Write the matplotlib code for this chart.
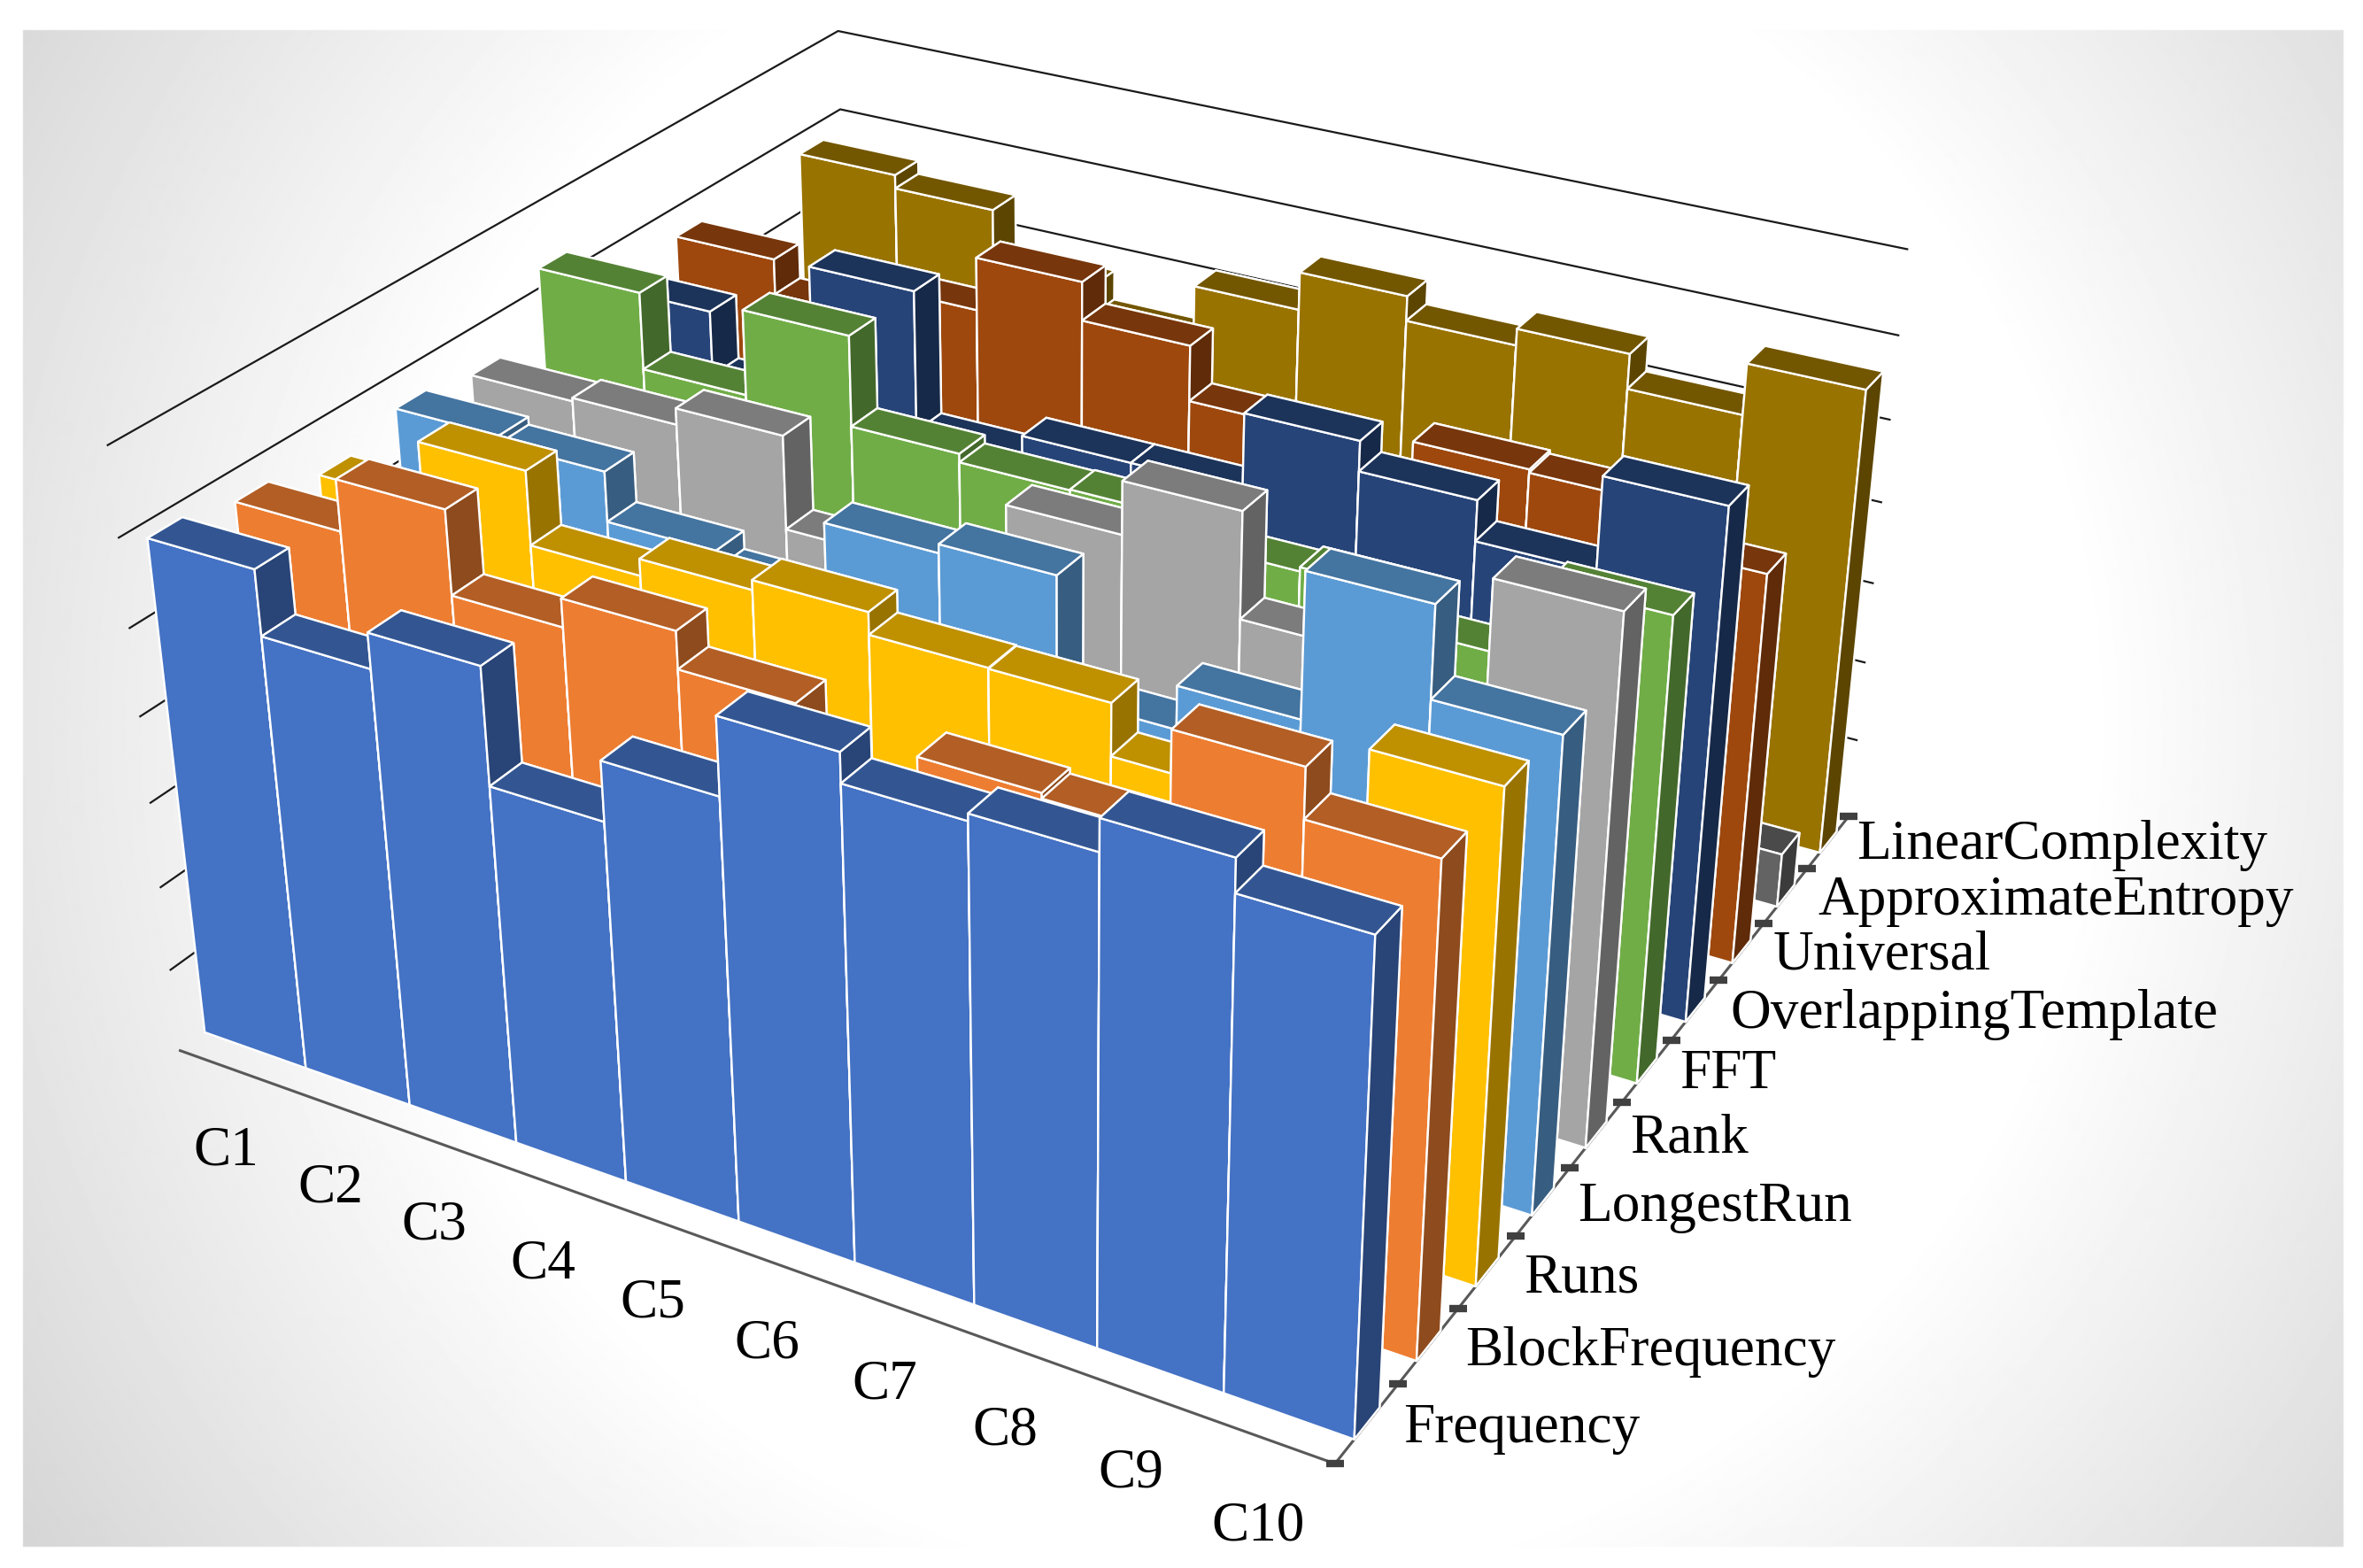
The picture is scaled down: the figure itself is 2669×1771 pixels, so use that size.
"""3D column chart of randomness test scores per cipher configuration."""

import numpy as np
import matplotlib

matplotlib.use("Agg")
import matplotlib.pyplot as plt
from matplotlib.colors import to_rgb

categories = ["C1", "C2", "C3", "C4", "C5", "C6", "C7", "C8", "C9", "C10"]
tests = [
    "Frequency", "BlockFrequency", "Runs", "LongestRun", "Rank", "FFT",
    "OverlappingTemplate", "Universal", "ApproximateEntropy", "LinearComplexity",
]

frequency = [5.82, 5.08, 5.48, 4.16, 4.83, 5.69, 5.36, 5.44, 5.79, 5.43]
block_frequency = [5.65, 6.23, 5.28, 5.6, 5.18, 4.3, 4.98, 4.92, 6.03, 5.49]
runs = [5.39, 6.09, 5.25, 5.44, 5.55, 5.3, 5.29, 4.71, 4.14, 5.55]
longest_run = [5.61, 5.52, 4.94, 4.73, 5.6, 5.7, 4.35, 4.84, 6.44, 5.43]
rank = [5.47, 5.51, 5.7, 4.61, 4.18, 5.56, 6.16, 4.96, 4.41, 6.11]
fft = [6.23, 5.32, 6.32, 5.26, 5.16, 5.17, 4.9, 4.95, 4.55, 5.46]
overlapping = [5.5, 4.72, 6.33, 4.66, 4.92, 4.92, 5.82, 5.47, 5.0, 6.07]
universal = [5.64, 5.21, 5.6, 6.23, 5.77, 5.11, 4.6, 5.26, 5.22, 4.72]
approx_entropy = [0.5, 0.6, 0.45, 0.7, 0.55, 0.6, 0.5, 0.65, 0.55, 0.67]
linear_complexity = [5.74, 5.57, 4.89, 4.52, 5.18, 5.64, 5.34, 5.54, 5.12, 5.73]

series = [
    frequency, block_frequency, runs, longest_run, rank,
    fft, overlapping, universal, approx_entropy, linear_complexity,
]
colors = [
    "#4472C4", "#ED7D31", "#FFC000", "#5B9BD5", "#A5A5A5",
    "#70AD47", "#264478", "#9E480E", "#636363", "#997300",
]

# label centres in picture pixels, the labels do not follow the 3D axes exactly
CAT_LABEL_XY = [(255, 1301), (373, 1342), (490, 1384), (613, 1429), (737, 1473),
                (866, 1519), (999, 1565), (1135, 1616), (1277, 1665), (1421, 1725)]
TEST_LABEL_XY = [(1719, 1614), (1864, 1527), (1786, 1444), (1937, 1364), (1908, 1287),
                 (1952, 1214), (2230, 1146), (2126, 1080), (2322, 1018), (2329, 955)]

W, H = 2669, 1771
FONT = "Liberation Serif"


def add_background(fig):
    """Grey radial wash behind the whole chart."""
    bg = fig.add_axes([0, 0, 1, 1], zorder=0)
    yy, xx = np.mgrid[0:H:2, 0:W:2]
    r = np.hypot(xx - 1400, yy - 820)
    shade = np.clip(255 - 0.06 * np.clip(r - 960, 0, None), 0, 255)
    shade[(xx < 25) | (xx > 2646) | (yy < 33) | (yy > 1746)] = 255
    bg.imshow(shade, cmap="gray", vmin=0, vmax=255, extent=(0, W, H, 0), aspect="auto")
    bg.set_axis_off()


def add_chart(fig):
    # camera fitted to the wall corners of the original
    scale = 9477.5 * W / 1568
    left = (697.73 * W / 1568) - 0.095 * scale
    top = (428.85 * W / 1568) - 0.09 * scale
    side = 0.185 * scale
    ax = fig.add_axes([left / W, (H - top - side) / H, side / W, side / H],
                      projection="3d", zorder=1)
    ax.patch.set_alpha(0)
    ax.computed_zorder = False
    ax.view_init(elev=28.505, azim=-60.142, roll=0.09)
    ax.set_proj_type("persp", focal_length=0.29587)
    ax.set_box_aspect((1.08336, 1.06037, 0.56521), zoom=0.7)
    ax.set_axis_off()

    # walls carry only the gridlines
    for level in range(1, 8):
        ax.plot([0, 0, 10], [0, 10, 10], [level] * 3, color="#1a1a1a", lw=1.6, zorder=1)

    ax.plot([0, 10, 10], [0, 0, 10], [0, 0, 0], color="#595959", lw=2.2, zorder=2)
    ax.plot([10] * 11, range(11), [0] * 11, ls="", marker="_", ms=15, mew=6,
            color="#404040", zorder=3)

    order = 10
    for row in range(len(series) - 1, -1, -1):
        rgb = np.array(to_rgb(colors[row]))
        # face order of bar3d: -Z, +Z, -Y, +Y, -X, +X
        faces = [rgb * 0.6, rgb * 0.75, rgb, rgb, rgb * 0.6, rgb * 0.6]
        for col, value in enumerate(series[row]):
            bar = ax.bar3d(col, row + 0.3, 0, 1, 0.4, value, color=faces,
                           edgecolor="white", linewidth=1.7, shade=False)
            bar.set_zorder(order)
            order += 1

    ax.set_xlim(0, 10)
    ax.set_ylim(0, 10)
    ax.set_zlim(0, 7)
    return ax


def add_labels(fig):
    for text, (x, y) in zip(categories + tests, CAT_LABEL_XY + TEST_LABEL_XY):
        fig.text(x / W, 1 - y / H, text, fontsize=45.5, family=FONT, color="black",
                 ha="center", va="center", zorder=5)


fig = plt.figure(figsize=(W / 100, H / 100), dpi=100)
add_background(fig)
add_chart(fig)
add_labels(fig)
fig.savefig("out.png", dpi=100)
